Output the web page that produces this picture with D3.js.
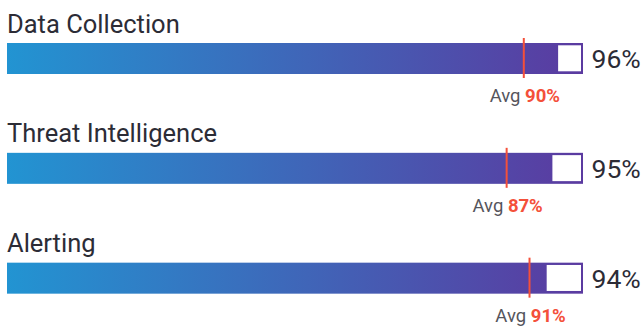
<!DOCTYPE html>
<html>
<head>
<meta charset="utf-8">
<script src="https://cdn.jsdelivr.net/npm/d3@7"></script>
<style>
  html, body { margin: 0; padding: 0; background: #ffffff; }
  svg { display: block; font-family: Roboto, "Noto Sans", sans-serif; }
</style>
</head>
<body>
<svg id="chart" width="644" height="327"></svg>
<script>
// Coverage scores per capability, with the peer average
const categories = ["Data Collection", "Threat Intelligence", "Alerting"];
const scores = [96, 95, 94];
const averages = [90, 87, 91];

const svg = d3.select("#chart");

const x = d3.scaleLinear().domain([0, 100]).range([9, 581]);
const row = d3.scaleBand().domain(categories).range([0, 329.5]).paddingInner(0);

const barTop = 43, barH = 31;

const defs = svg.append("defs");
const grad = defs.append("linearGradient")
  .attr("id", "barGrad")
  .attr("gradientUnits", "userSpaceOnUse")
  .attr("x1", 7).attr("x2", 583).attr("y1", 0).attr("y2", 0);
grad.append("stop").attr("offset", "0%").attr("stop-color", "#2294d2");
grad.append("stop").attr("offset", "100%").attr("stop-color", "#5b3aa0");

const data = categories.map((c, i) => ({ name: c, score: scores[i], avg: averages[i] }));

const g = svg.selectAll("g.row")
  .data(data)
  .join("g")
  .attr("class", "row")
  .attr("transform", d => `translate(0,${row(d.name)})`);

// Category title
g.append("text")
  .attr("x", 7)
  .attr("y", 32.5)
  .attr("fill", "#2c2c36")
  .style("font-size", "25.5px")
  .text(d => d.name);

// Full-width bar frame, filled with the gradient
g.append("rect")
  .attr("x", 7)
  .attr("y", barTop)
  .attr("width", 583 - 7)
  .attr("height", barH)
  .attr("fill", "url(#barGrad)");

// Unfilled remainder
g.append("rect")
  .attr("x", d => x(d.score))
  .attr("y", barTop + 2.3)
  .attr("width", d => x(100) - x(d.score))
  .attr("height", barH - 5)
  .attr("fill", "#ffffff");

// Average marker
g.append("line")
  .attr("x1", d => x(d.avg))
  .attr("x2", d => x(d.avg))
  .attr("y1", barTop - 5)
  .attr("y2", barTop + barH + 4)
  .attr("stroke", "#f4503a")
  .attr("stroke-width", 2);

// Score label
g.append("text")
  .attr("x", 591.5)
  .attr("y", barTop + 25.3)
  .attr("fill", "#2c2c36")
  .style("font-size", "26.5px")
  .text(d => d.score + "%");

// Average label
const avgText = g.append("text")
  .attr("x", d => x(d.avg) + 1)
  .attr("y", barTop + 59)
  .attr("text-anchor", "middle")
  .style("font-size", "18.5px");
avgText.append("tspan")
  .attr("fill", "#55555c")
  .text("Avg ");
avgText.append("tspan")
  .attr("fill", "#f4503a")
  .style("font-weight", "700")
  .text(d => d.avg + "%");
</script>
</body>
</html>
